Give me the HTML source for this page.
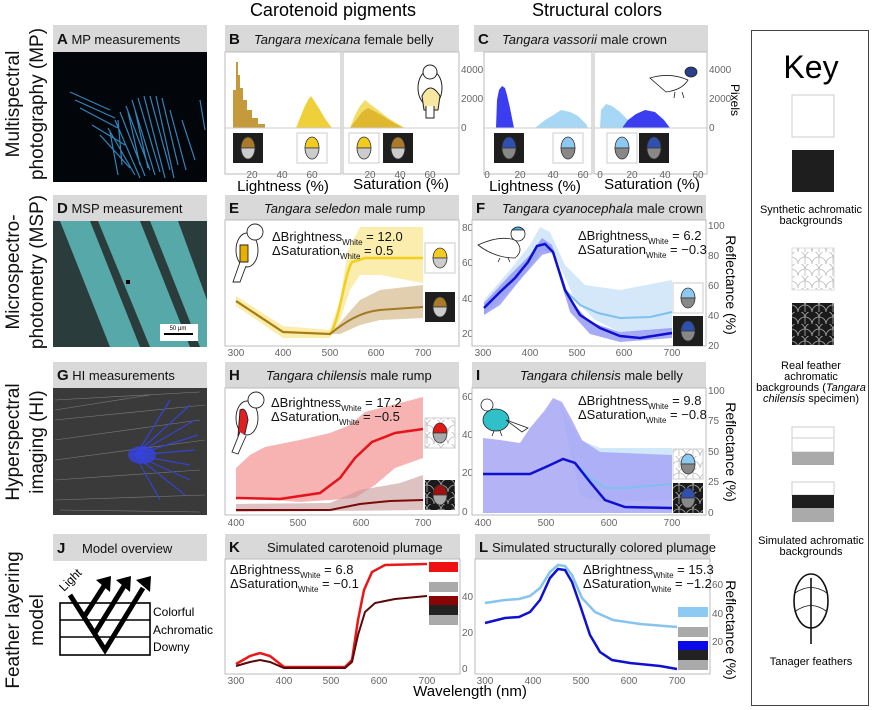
<!DOCTYPE html>
<html><head><meta charset="utf-8"><style>
html,body{margin:0;padding:0;background:#fff}
svg{display:block;font-family:"Liberation Sans",Arial,sans-serif}
.tk{font-size:10px;fill:#666}
.hd{font-size:13px;fill:#111}
.lb{font-size:19px;fill:#111}
.dt{font-size:13px;fill:#111}
.sb{font-size:8px}
</style></head><body>
<svg width="877" height="710" viewBox="0 0 877 710" xmlns="http://www.w3.org/2000/svg">
<defs>
<pattern id="sc" width="14" height="12" patternUnits="userSpaceOnUse">
<path d="M0,12 A7,7 0 0 1 14,12 M-7,6 A7,7 0 0 1 7,6 M7,6 A7,7 0 0 1 21,6 M7,12 L7,6" fill="none" stroke="#bbb" stroke-width="0.8"/>
</pattern>
<pattern id="scd" width="14" height="12" patternUnits="userSpaceOnUse">
<rect width="14" height="12" fill="#1a1a1a"/>
<path d="M0,12 A7,7 0 0 1 14,12 M-7,6 A7,7 0 0 1 7,6 M7,6 A7,7 0 0 1 21,6 M7,12 L7,6" fill="none" stroke="#aaa" stroke-width="0.8"/>
</pattern>
</defs>

<text x="333" y="16" font-size="18" text-anchor="middle">Carotenoid pigments</text>
<text x="597" y="16" font-size="18" text-anchor="middle">Structural colors</text>

<g class="lb" text-anchor="middle">
<text transform="translate(19,104) rotate(-90)">Multispectral</text>
<text transform="translate(43,104) rotate(-90)">photography (MP)</text>
<text transform="translate(19,272) rotate(-90)">Microspectro-</text>
<text transform="translate(43,272) rotate(-90)">photometry (MSP)</text>
<text transform="translate(19,442) rotate(-90)">Hyperspectral</text>
<text transform="translate(43,442) rotate(-90)">imaging (HI)</text>
<text transform="translate(19,620) rotate(-90)">Feather layering</text>
<text transform="translate(43,620) rotate(-90)">model</text>
</g>

<g fill="#d9d9d9">
<rect x="53" y="25" width="154" height="27"/>
<rect x="225" y="25" width="234" height="27"/>
<rect x="474" y="25" width="234" height="27"/>
<rect x="53" y="195" width="154" height="26"/>
<rect x="225" y="195" width="234" height="25"/>
<rect x="472" y="195" width="234" height="25"/>
<rect x="53" y="362" width="154" height="26"/>
<rect x="225" y="362" width="234" height="26"/>
<rect x="472" y="362" width="234" height="26"/>
<rect x="53" y="534" width="154" height="27"/>
<rect x="225" y="534" width="235" height="25"/>
<rect x="475" y="534" width="235" height="25"/>
</g>
<g class="hd">
<text x="57" y="44"><tspan font-weight="bold" font-size="15">A</tspan> MP measurements</text>
<text x="229" y="44"><tspan font-weight="bold" font-size="15">B</tspan><tspan x="254" font-style="italic">Tangara mexicana</tspan> female belly</text>
<text x="478" y="44"><tspan font-weight="bold" font-size="15">C</tspan><tspan x="502" font-style="italic">Tangara vassorii</tspan> male crown</text>
<text x="57" y="213"><tspan font-weight="bold" font-size="15">D</tspan> MSP measurement</text>
<text x="229" y="213"><tspan font-weight="bold" font-size="15">E</tspan><tspan x="264" font-style="italic">Tangara seledon</tspan> male rump</text>
<text x="476" y="213"><tspan font-weight="bold" font-size="15">F</tspan><tspan x="502" font-style="italic">Tangara cyanocephala</tspan> male crown</text>
<text x="57" y="380"><tspan font-weight="bold" font-size="15">G</tspan>  HI measurements</text>
<text x="229" y="380"><tspan font-weight="bold" font-size="15">H</tspan><tspan x="266" font-style="italic">Tangara chilensis</tspan> male rump</text>
<text x="476" y="380"><tspan font-weight="bold" font-size="15">I</tspan><tspan x="520" font-style="italic">Tangara chilensis</tspan> male belly</text>
<text x="57" y="553"><tspan font-weight="bold" font-size="15">J</tspan><tspan x="82">Model overview</tspan></text>
<text x="229" y="552"><tspan font-weight="bold" font-size="15">K</tspan><tspan x="267">Simulated carotenoid plumage</tspan></text>
<text x="479" y="552"><tspan font-weight="bold" font-size="15">L</tspan><tspan x="492">Simulated structurally colored plumage</tspan></text>
</g>

<rect x="53" y="52" width="154" height="130" fill="#02060a"/>
<g stroke="#3a9ad8" stroke-width="1.2" opacity="0.85">
<path d="M70,92 L110,110 M75,100 L115,118 M80,108 L118,128 M92,125 L125,145 M100,135 L130,168 M108,128 L135,175 M115,120 L140,178 M120,112 L145,176 M126,106 L150,170 M132,100 L155,175 M138,98 L160,172 M144,96 L165,178 M150,96 L170,170 M156,96 L174,178 M162,98 L178,165 M170,110 L186,170 M182,120 L195,160 M200,100 L205,130 M118,120 L122,165 M110,132 L118,175 M128,112 L140,165 M135,110 L148,168"/>
</g>
<rect x="53" y="221" width="154" height="126" fill="#2a3c3c"/>
<g fill="#5fbcbc" opacity="0.85">
<polygon points="60,221 90,221 140,347 110,347"/>
<polygon points="98,221 140,221 190,347 150,347"/>
<polygon points="150,221 178,221 207,300 207,347 200,347"/>
</g>
<rect x="126" y="280" width="4" height="4" fill="#000"/>
<rect x="160" y="324" width="38" height="17" fill="#fff"/>
<line x1="164" y1="334" x2="193" y2="334" stroke="#000" stroke-width="2"/>
<text x="178" y="330" text-anchor="middle" font-size="6">50 µm</text>
<rect x="53" y="388" width="154" height="127" fill="#3a3a3a"/>
<g stroke="#9a9a9a" stroke-width="0.6" opacity="0.7">
<path d="M55,400 L200,392 M55,420 L205,405 M55,440 L200,420 M55,460 L205,440 M55,480 L200,470 M55,500 L205,495 M60,510 L200,512 M55,410 L150,395"/>
</g>
<g stroke="#3444e0" stroke-width="1.2" opacity="0.9">
<path d="M135,455 L190,405 M135,455 L195,420 M135,455 L198,435 M135,455 L195,450 M135,455 L190,465 M135,455 L190,480 M135,455 L185,495 M138,452 L170,400 M135,455 L160,500"/>
</g>
<ellipse cx="142" cy="455" rx="14" ry="9" fill="#3444e0" opacity="0.8"/>

<rect x="225" y="52" width="116" height="122" fill="#fff" stroke="#bbb"/>
<rect x="343" y="52" width="116" height="122" fill="#fff" stroke="#bbb"/>
<path d="M233,128 L233,90 L236,90 L236,62 L238,62 L238,75 L240,75 L240,88 L243,88 L243,100 L247,100 L247,110 L252,110 L252,118 L258,118 L258,124 L265,124 L265,128 Z" fill="#c49a3c"/>
<path d="M296,128 L300,118 L304,108 L308,100 L311,96 L315,102 L320,110 L326,120 L332,128 Z" fill="#f0d03a"/>
<path d="M350,128 L355,115 L360,106 L365,100 L370,104 L378,110 L388,118 L398,124 L405,128 Z" fill="#f2dc6a"/>
<path d="M350,128 L356,120 L362,112 L368,108 L376,112 L386,118 L396,124 L404,128 Z" fill="#e0b830"/>
<g stroke="#ccc" fill="none"><line x1="225" y1="128" x2="341" y2="128"/><line x1="343" y1="128" x2="459" y2="128"/></g>
<rect x="233" y="133" width="30" height="30" fill="#1e1e1e"/>
<rect x="297" y="133" width="30" height="30" fill="#fff" stroke="#ccc"/>
<rect x="349" y="133" width="30" height="30" fill="#fff" stroke="#ccc"/>
<rect x="383" y="133" width="30" height="30" fill="#1e1e1e"/>
<g stroke="#333" stroke-width="0.8">
<path d="M241,148 a7,11 0 0 1 14,0 z" fill="#a97a2a"/><path d="M241,148 a7,11 0 0 0 14,0 z" fill="#ccc"/>
<path d="M305,148 a7,11 0 0 1 14,0 z" fill="#f0cc20"/><path d="M305,148 a7,11 0 0 0 14,0 z" fill="#ccc"/>
<path d="M357,148 a7,11 0 0 1 14,0 z" fill="#f0cc20"/><path d="M357,148 a7,11 0 0 0 14,0 z" fill="#ccc"/>
<path d="M391,148 a7,11 0 0 1 14,0 z" fill="#a97a2a"/><path d="M391,148 a7,11 0 0 0 14,0 z" fill="#ccc"/>
</g>
<g stroke="#222" stroke-width="1" fill="#fff">
<ellipse cx="430" cy="88" rx="12" ry="18"/>
<path d="M422,96 Q430,80 440,96 L438,110 L424,110 Z" fill="#f7e7a0"/>
<circle cx="430" cy="72" r="7"/>
<path d="M426,106 L426,118 L434,118 L434,106"/>
</g>
<g class="tk" text-anchor="middle">
<text x="252" y="178">20</text><text x="282" y="178">40</text><text x="312" y="178">60</text>
<text x="370" y="178">20</text><text x="400" y="178">40</text><text x="430" y="178">60</text>
</g>
<g class="tk"><text x="461" y="73">4000</text><text x="461" y="102">2000</text><text x="461" y="131">0</text></g>
<text x="283" y="191" font-size="15" text-anchor="middle">Lightness (%)</text>
<text x="401" y="189" font-size="15" text-anchor="middle">Saturation (%)</text>

<rect x="484" y="52" width="108" height="122" fill="#fff" stroke="#bbb"/>
<rect x="594" y="52" width="113" height="122" fill="#fff" stroke="#bbb"/>
<path d="M496,128 L497,100 L499,90 L502,86 L505,88 L507,95 L510,108 L512,118 L514,128 Z" fill="#3a3ef0"/>
<path d="M535,128 L545,120 L555,114 L561,110 L570,112 L578,116 L586,124 L588,128 Z" fill="#a6d8f6"/>
<path d="M600,128 L601,110 L606,104 L612,106 L620,112 L628,120 L632,128 Z" fill="#a6d8f6"/>
<path d="M622,128 L628,120 L636,114 L645,110 L655,112 L664,120 L670,128 Z" fill="#3a3ef0"/>
<g stroke="#ccc" fill="none"><line x1="484" y1="128" x2="592" y2="128"/><line x1="594" y1="128" x2="707" y2="128"/></g>
<rect x="494" y="133" width="30" height="30" fill="#1e1e1e"/>
<rect x="553" y="133" width="30" height="30" fill="#fff" stroke="#ccc"/>
<rect x="607" y="133" width="30" height="30" fill="#fff" stroke="#ccc"/>
<rect x="639" y="133" width="30" height="30" fill="#1e1e1e"/>
<g stroke="#333" stroke-width="0.8">
<path d="M502,148 a7,11 0 0 1 14,0 z" fill="#3050b0"/><path d="M502,148 a7,11 0 0 0 14,0 z" fill="#888"/>
<path d="M561,148 a7,11 0 0 1 14,0 z" fill="#8cc8f0"/><path d="M561,148 a7,11 0 0 0 14,0 z" fill="#888"/>
<path d="M615,148 a7,11 0 0 1 14,0 z" fill="#8cc8f0"/><path d="M615,148 a7,11 0 0 0 14,0 z" fill="#888"/>
<path d="M647,148 a7,11 0 0 1 14,0 z" fill="#3050b0"/><path d="M647,148 a7,11 0 0 0 14,0 z" fill="#888"/>
</g>
<g stroke="#222" stroke-width="0.8" fill="#fff">
<path d="M650,78 Q670,72 688,80 Q682,90 666,92 Z"/>
<ellipse cx="691" cy="72" rx="6" ry="5" fill="#2a3e8a"/>
<path d="M675,92 L674,98 M682,92 L684,98"/>
</g>
<g class="tk" text-anchor="middle">
<text x="487" y="178">0</text><text x="520" y="178">20</text><text x="553" y="178">40</text><text x="583" y="178">60</text>
<text x="600" y="178">0</text><text x="632" y="178">20</text><text x="665" y="178">40</text><text x="698" y="178">60</text>
</g>
<g class="tk"><text x="709" y="73">4000</text><text x="709" y="102">2000</text><text x="709" y="131">0</text></g>
<text x="535" y="191" font-size="15" text-anchor="middle">Lightness (%)</text>
<text x="652" y="189" font-size="15" text-anchor="middle">Saturation (%)</text>
<text transform="translate(731,100) rotate(90)" font-size="12" text-anchor="middle">Pixels</text>

<rect x="225" y="220" width="234" height="126" fill="#fff" stroke="#bbb"/>
<path d="M236,296 L283,326 L330,330 L340,300 L348,250 L360,227 L423,227 L423,283 L380,275 L360,275 L350,290 L340,320 L330,338 L283,338 L236,306 Z" fill="#f7df6a" opacity="0.55"/>
<path d="M330,334 L360,300 L380,290 L423,285 L423,318 L380,320 L360,325 L340,334 Z" fill="#c8a870" opacity="0.55"/>
<path d="M236,301 L283,332 L330,334 C340,320 344,275 352,262 L365,258 L423,258" fill="none" stroke="#f2cf1a" stroke-width="2.5"/>
<path d="M236,301 L283,332 L330,334 C345,322 360,312 380,310 L423,307" fill="none" stroke="#a27a22" stroke-width="2"/>
<rect x="425" y="243" width="30" height="30" fill="#fff" stroke="#ccc"/>
<rect x="425" y="292" width="30" height="30" fill="#1e1e1e"/>
<g stroke="#333" stroke-width="0.8">
<path d="M433,258 a7,10 0 0 1 14,0 z" fill="#f0cc20"/><path d="M433,258 a7,10 0 0 0 14,0 z" fill="#ccc"/>
<path d="M433,307 a7,10 0 0 1 14,0 z" fill="#a97a2a"/><path d="M433,307 a7,10 0 0 0 14,0 z" fill="#ccc"/>
</g>
<g stroke="#222" stroke-width="0.9" fill="#fff">
<ellipse cx="247" cy="250" rx="11" ry="17"/>
<circle cx="255" cy="232" r="8"/>
<path d="M240,245 L248,245 L248,262 L240,262Z" fill="#e8b000"/>
<path d="M240,262 L233,282 L240,282 L246,266"/>
</g>
<text class="dt" x="272" y="241">ΔBrightness<tspan font-size="8" dy="4">White</tspan><tspan dy="-4"> = 12.0</tspan></text>
<text class="dt" x="272" y="255">ΔSaturation<tspan font-size="8" dy="4">White</tspan><tspan dy="-4"> = 0.5</tspan></text>
<g class="tk" text-anchor="middle">
<text x="236" y="356">300</text><text x="283" y="356">400</text><text x="330" y="356">500</text><text x="376" y="356">600</text><text x="423" y="356">700</text>
</g>
<g class="tk"><text x="462" y="231">80</text><text x="462" y="266">60</text><text x="462" y="302">40</text><text x="462" y="337">20</text></g>

<rect x="472" y="220" width="234" height="126" fill="#fff" stroke="#bbb"/>
<path d="M484,300 L510,270 L530,245 L540,227 L550,232 L565,265 L585,285 L620,290 L672,280 L672,330 L620,332 L595,320 L575,300 L555,255 L542,250 L520,280 L500,300 L484,315 Z" fill="#cfe6fa" opacity="0.9"/>
<path d="M484,303 L510,275 L530,255 L542,238 L552,245 L570,300 L590,322 L620,332 L672,328 L672,338 L620,342 L590,334 L570,312 L552,252 L542,255 L520,280 L500,305 L484,315 Z" fill="#8a8ef2" opacity="0.75"/>
<path d="M484,308 L500,292 L515,278 L528,262 L537,246 L545,244 L553,252 L565,290 L580,305 L598,313 L620,318 L650,317 L672,312" fill="none" stroke="#7fc0ec" stroke-width="2"/>
<path d="M484,308 L500,292 L515,278 L528,262 L537,246 L545,244 L553,252 L565,290 L580,315 L600,328 L620,336 L640,338 L672,333" fill="none" stroke="#1010d0" stroke-width="2.5"/>
<rect x="673" y="283" width="30" height="30" fill="#fff" stroke="#ccc"/>
<rect x="673" y="316" width="30" height="30" fill="#1e1e1e"/>
<g stroke="#333" stroke-width="0.8">
<path d="M681,298 a7,10 0 0 1 14,0 z" fill="#8cc8f0"/><path d="M681,298 a7,10 0 0 0 14,0 z" fill="#888"/>
<path d="M681,331 a7,10 0 0 1 14,0 z" fill="#3050b0"/><path d="M681,331 a7,10 0 0 0 14,0 z" fill="#888"/>
</g>
<g stroke="#222" stroke-width="0.8" fill="#fff">
<path d="M478,245 Q500,235 515,240 Q525,250 515,258 Q495,258 478,245Z"/>
<circle cx="518" cy="234" r="7" fill="#fff"/>
<path d="M512,230 Q518,224 524,230Z" fill="#4ab0e0"/>
<path d="M500,258 L498,262 M508,258 L510,262"/>
</g>
<text class="dt" x="578" y="240">ΔBrightness<tspan font-size="8" dy="4">White</tspan><tspan dy="-4"> = 6.2</tspan></text>
<text class="dt" x="578" y="254">ΔSaturation<tspan font-size="8" dy="4">White</tspan><tspan dy="-4"> = −0.3</tspan></text>
<g class="tk" text-anchor="middle">
<text x="483" y="356">300</text><text x="530" y="356">400</text><text x="577" y="356">500</text><text x="624" y="356">600</text><text x="672" y="356">700</text>
</g>
<g class="tk"><text x="708" y="229">100</text><text x="708" y="259">80</text><text x="708" y="289">60</text><text x="708" y="319">40</text><text x="708" y="349">20</text></g>
<text transform="translate(726,285) rotate(90)" font-size="14" text-anchor="middle">Reflectance (%)</text>

<rect x="225" y="388" width="234" height="127" fill="#fff" stroke="#bbb"/>
<path d="M236,468 L250,455 L265,447 L300,440 L330,433 L350,425 L365,412 L423,397 L423,458 L395,468 L375,485 L355,498 L330,500 L300,502 L236,497 Z" fill="#f6a4a4" opacity="0.85"/>
<path d="M236,504 L330,503 L360,490 L400,483 L423,475 L423,510 L236,512 Z" fill="#c89a9a" opacity="0.6"/>
<path d="M236,498 L280,499 L320,493 L340,478 L355,458 L372,442 L395,433 L423,429" fill="none" stroke="#e4141a" stroke-width="2.5"/>
<path d="M236,510 L330,510 L360,504 L390,501 L423,500" fill="none" stroke="#7a0a0a" stroke-width="2"/>
<rect x="425" y="418" width="30" height="30" fill="url(#sc)" stroke="#ccc"/>
<rect x="425" y="480" width="30" height="30" fill="url(#scd)"/>
<g stroke="#333" stroke-width="0.8">
<path d="M433,433 a7,10 0 0 1 14,0 z" fill="#e01818"/><path d="M433,433 a7,10 0 0 0 14,0 z" fill="#aaa"/>
<path d="M433,495 a7,10 0 0 1 14,0 z" fill="#a01010"/><path d="M433,495 a7,10 0 0 0 14,0 z" fill="#aaa"/>
</g>
<g stroke="#222" stroke-width="0.9" fill="#fff">
<ellipse cx="247" cy="418" rx="11" ry="17"/>
<circle cx="256" cy="400" r="8"/>
<path d="M240,410 Q246,406 248,420 L244,438 L238,436Z" fill="#e02020"/>
<path d="M240,432 L232,452 L238,454 L246,436"/>
</g>
<text class="dt" x="271" y="407">ΔBrightness<tspan font-size="8" dy="4">White</tspan><tspan dy="-4"> = 17.2</tspan></text>
<text class="dt" x="271" y="421">ΔSaturation<tspan font-size="8" dy="4">White</tspan><tspan dy="-4"> = −0.5</tspan></text>
<g class="tk" text-anchor="middle">
<text x="236" y="526">400</text><text x="298" y="526">500</text><text x="361" y="526">600</text><text x="423" y="526">700</text>
</g>
<g class="tk"><text x="462" y="400">60</text><text x="462" y="438">40</text><text x="462" y="476">20</text><text x="462" y="515">0</text></g>

<rect x="472" y="388" width="234" height="127" fill="#fff" stroke="#bbb"/>
<path d="M560,405 L580,440 L600,448 L672,448 L672,500 L600,502 L580,495 Z" fill="#d0e8fa"/>
<path d="M483,438 L500,440 L520,443 L530,428 L545,410 L553,398 L562,402 L572,420 L582,440 L600,452 L672,455 L672,513 L483,513 Z" fill="#a7a6f4" opacity="0.85"/>
<path d="M483,474 L530,474 L548,466 L563,459 L575,463 L590,478 L605,488 L625,488 L672,484" fill="none" stroke="#7fc0ec" stroke-width="2"/>
<path d="M483,474 L530,474 L548,466 L563,459 L575,463 L590,482 L605,500 L625,507 L672,508" fill="none" stroke="#1010d0" stroke-width="2.5"/>
<rect x="673" y="449" width="30" height="30" fill="url(#sc)" stroke="#ccc"/>
<rect x="673" y="483" width="30" height="30" fill="url(#scd)"/>
<g stroke="#333" stroke-width="0.8">
<path d="M681,464 a7,10 0 0 1 14,0 z" fill="#8cc8f0"/><path d="M681,464 a7,10 0 0 0 14,0 z" fill="#888"/>
<path d="M681,498 a7,10 0 0 1 14,0 z" fill="#3050b0"/><path d="M681,498 a7,10 0 0 0 14,0 z" fill="#888"/>
</g>
<g stroke="#222" stroke-width="0.8">
<ellipse cx="496" cy="420" rx="13" ry="11" fill="#30c0c8"/>
<circle cx="487" cy="405" r="6" fill="#fff"/>
<path d="M506,420 L528,428 L522,432 Z" fill="#fff"/>
<path d="M494,431 L492,436 M500,431 L502,436" fill="none"/>
</g>
<text class="dt" x="578" y="405">ΔBrightness<tspan font-size="8" dy="4">White</tspan><tspan dy="-4"> = 9.8</tspan></text>
<text class="dt" x="578" y="419">ΔSaturation<tspan font-size="8" dy="4">White</tspan><tspan dy="-4"> = −0.8</tspan></text>
<g class="tk" text-anchor="middle">
<text x="483" y="526">400</text><text x="546" y="526">500</text><text x="609" y="526">600</text><text x="672" y="526">700</text>
</g>
<g class="tk"><text x="708" y="394">100</text><text x="708" y="424">75</text><text x="708" y="455">50</text><text x="708" y="485">25</text><text x="708" y="516">0</text></g>
<text transform="translate(726,452) rotate(90)" font-size="14" text-anchor="middle">Reflectance (%)</text>

<g stroke="#000" stroke-width="1.6" fill="none">
<rect x="60" y="603" width="90" height="52"/>
<line x1="60" y1="620" x2="150" y2="620"/><line x1="60" y1="637" x2="150" y2="637"/>
</g>
<g stroke="#000" stroke-width="5" fill="none">
<path d="M70,595 L105,650 L143,588"/>
<path d="M84,617 L104,586"/>
<path d="M95,633 L124,586"/>
</g>
<g fill="#000">
<polygon points="96,580 111,576 110,592"/>
<polygon points="116,580 131,576 130,592"/>
<polygon points="136,580 151,576 150,592"/>
</g>
<text transform="translate(64,592) rotate(-45)" font-size="12">Light</text>
<g font-size="12"><text x="153" y="616">Colorful</text><text x="153" y="634">Achromatic</text><text x="153" y="651">Downy</text></g>

<rect x="225" y="559" width="235" height="115" fill="#fff" stroke="#bbb"/>
<path d="M236,664 L250,656 L260,653 L270,656 L284,667 L345,667 L352,660 L358,620 L364,590 L372,572 L385,565 L427,564" fill="none" stroke="#e81818" stroke-width="2.5"/>
<path d="M236,666 L250,662 L260,660 L270,662 L284,668 L345,668 L352,662 L358,635 L365,612 L375,603 L395,599 L427,596" fill="none" stroke="#5a0808" stroke-width="2"/>
<rect x="429" y="562" width="29" height="10" fill="#ee1111"/>
<rect x="429" y="572" width="29" height="9" fill="#fff"/>
<rect x="429" y="582" width="29" height="10" fill="#aaa"/>
<rect x="429" y="596" width="29" height="9" fill="#8a0606"/>
<rect x="429" y="605" width="29" height="10" fill="#222"/>
<rect x="429" y="615" width="29" height="10" fill="#aaa"/>
<text class="dt" x="230" y="574">ΔBrightness<tspan font-size="8" dy="4">White</tspan><tspan dy="-4"> = 6.8</tspan></text>
<text class="dt" x="230" y="588">ΔSaturation<tspan font-size="8" dy="4">White</tspan><tspan dy="-4"> = −0.1</tspan></text>
<g class="tk" text-anchor="middle">
<text x="236" y="684">300</text><text x="284" y="684">400</text><text x="331" y="684">500</text><text x="379" y="684">600</text><text x="427" y="684">700</text>
</g>
<g class="tk"><text x="462" y="600">40</text><text x="462" y="636">20</text><text x="462" y="672">0</text></g>
<text x="470" y="696" font-size="15" text-anchor="middle">Wavelength (nm)</text>

<rect x="475" y="559" width="235" height="115" fill="#fff" stroke="#bbb"/>
<path d="M485,603 L505,600 L519,599 L530,596 L540,588 L550,572 L558,565 L565,566 L572,575 L582,598 L595,612 L613,620 L640,624 L677,627" fill="none" stroke="#86c4ee" stroke-width="2.5"/>
<path d="M485,623 L505,618 L519,617 L530,612 L540,600 L550,578 L558,569 L565,570 L572,582 L580,605 L590,635 L600,652 L612,660 L630,663 L660,666 L677,669" fill="none" stroke="#1010d0" stroke-width="2.5"/>
<rect x="678" y="607" width="30" height="10" fill="#8ccaf4"/>
<rect x="678" y="617" width="30" height="10" fill="#fff"/>
<rect x="678" y="627" width="30" height="10" fill="#aaa"/>
<rect x="678" y="641" width="30" height="9" fill="#0a0ae8"/>
<rect x="678" y="650" width="30" height="10" fill="#222"/>
<rect x="678" y="660" width="30" height="10" fill="#aaa"/>
<text class="dt" x="583" y="574">ΔBrightness<tspan font-size="8" dy="4">White</tspan><tspan dy="-4"> = 15.3</tspan></text>
<text class="dt" x="583" y="588">ΔSaturation<tspan font-size="8" dy="4">White</tspan><tspan dy="-4"> = −1.2</tspan></text>
<g class="tk" text-anchor="middle">
<text x="485" y="684">300</text><text x="533" y="684">400</text><text x="581" y="684">500</text><text x="629" y="684">600</text><text x="677" y="684">700</text>
</g>
<g class="tk"><text x="712" y="588">60</text><text x="712" y="617">40</text><text x="712" y="645">20</text></g>
<text transform="translate(726,630) rotate(90)" font-size="14" text-anchor="middle">Reflectance (%)</text>

<rect x="751.5" y="30.5" width="117" height="675" fill="#fff" stroke="#444"/>
<text x="811" y="78" font-size="32" text-anchor="middle">Key</text>
<rect x="792" y="95" width="42" height="42" fill="#fff" stroke="#ccc"/>
<rect x="792" y="150" width="42" height="42" fill="#1e1e1e"/>
<g font-size="11" text-anchor="middle">
<text x="811" y="213">Synthetic achromatic</text><text x="811" y="224">backgrounds</text>
<text x="811" y="369">Real feather</text><text x="811" y="380">achromatic</text>
<text x="811" y="391">backgrounds (<tspan font-style="italic">Tangara</tspan></text>
<text x="811" y="402"><tspan font-style="italic">chilensis</tspan> specimen)</text>
<text x="811" y="544">Simulated achromatic</text><text x="811" y="555">backgrounds</text>
<text x="811" y="665">Tanager feathers</text>
</g>
<rect x="792" y="248" width="42" height="42" fill="url(#sc)" stroke="#ddd"/>
<rect x="792" y="303" width="42" height="42" fill="url(#scd)"/>
<rect x="792" y="427" width="42" height="25" fill="#fff" stroke="#ccc"/>
<line x1="792" y1="438" x2="834" y2="438" stroke="#ccc"/>
<rect x="792" y="452" width="42" height="13" fill="#aaa"/>
<rect x="792" y="482" width="42" height="13" fill="#fff" stroke="#ccc"/>
<rect x="792" y="495" width="42" height="13" fill="#1e1e1e"/>
<rect x="792" y="508" width="42" height="14" fill="#aaa"/>
<g stroke="#111" fill="none">
<ellipse cx="811" cy="601" rx="17" ry="27" stroke-width="1.6"/>
<path d="M795,593 Q811,582 827,593 M796,611 Q811,600 826,611" stroke-width="0.8"/>
<line x1="811" y1="578" x2="811" y2="644" stroke-width="1.6"/>
</g>
</svg>
</body></html>
